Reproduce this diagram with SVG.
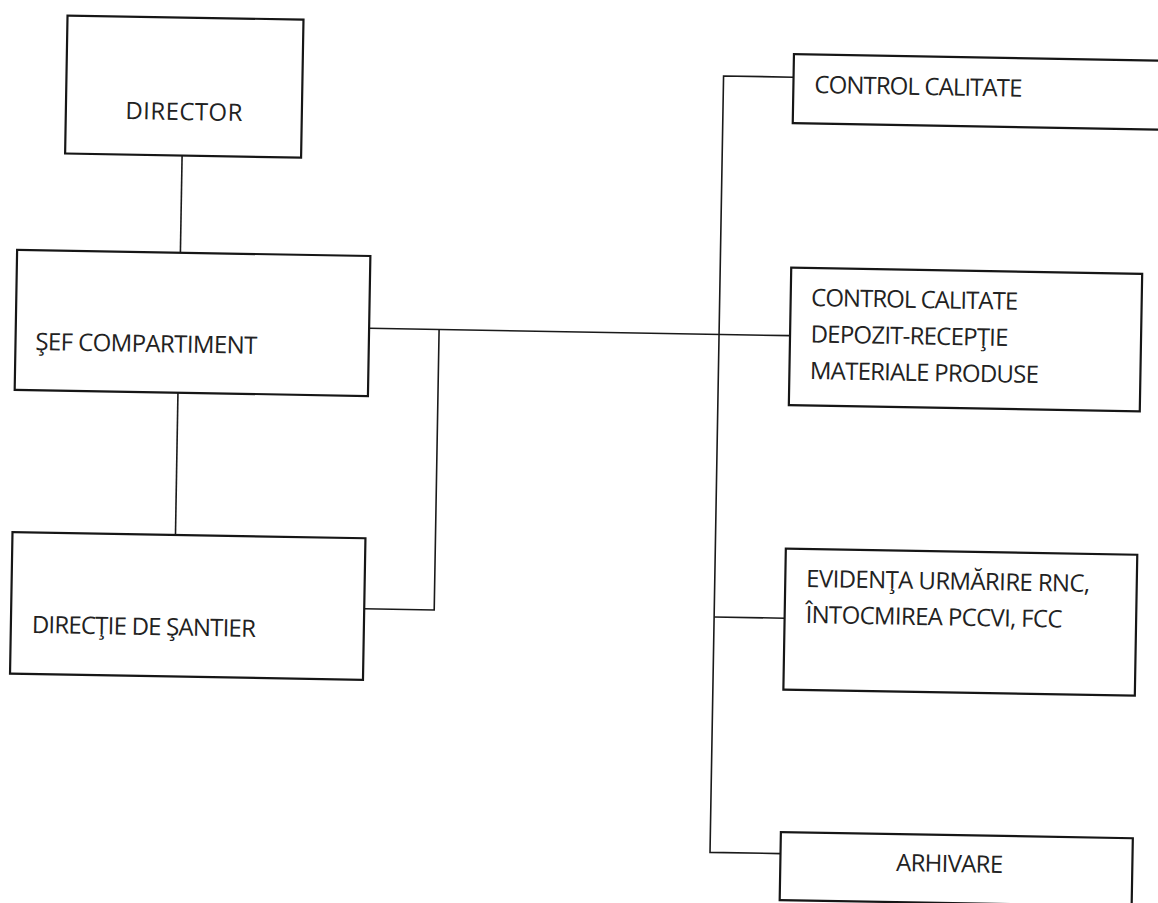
<svg xmlns="http://www.w3.org/2000/svg" width="1158" height="903" viewBox="0 0 1158 903">
<style>
.box{fill:none;stroke:#161616;stroke-width:2.2}
.ln{fill:none;stroke:#1a1a1a;stroke-width:1.6}
.t{font-family:"Open Sans","Noto Sans","Liberation Sans",sans-serif;font-size:24px;fill:#222}
</style>
<rect width="1158" height="903" fill="#ffffff"/>
<g transform="rotate(1 579 451)">
<g id="connectors">
<line class="ln" x1="177" y1="162.5" x2="177" y2="259.7"/>
<line class="ln" x1="177" y1="399.7" x2="177" y2="542"/>
<line class="ln" x1="367" y1="332" x2="788" y2="332"/>
<polyline class="ln" points="437,332 437,612.5 367,612.5"/>
<polyline class="ln" points="787,73.5 717,73.5 717,850 787.5,850"/>
<line class="ln" x1="717" y1="614.6" x2="787.5" y2="614.6"/>
</g>
<g id="director">
<rect class="box" x="60" y="24.5" width="236" height="138"/>
<text class="t" x="178" y="127" text-anchor="middle" font-size="26" textLength="117">DIRECTOR</text>
</g>
<g id="sef-compartiment">
<rect class="box" x="13.7" y="259.7" width="353.3" height="140"/>
<text class="t" x="33.5" y="359.5" textLength="222">ŞEF COMPARTIMENT</text>
</g>
<g id="directie-santier">
<rect class="box" x="14" y="542" width="353" height="141.5"/>
<text class="t" x="35" y="642.5" textLength="224">DIRECŢIE DE ŞANTIER</text>
</g>
<g id="control-calitate">
<rect class="box" x="787" y="50.5" width="420" height="69"/>
<text class="t" x="808" y="89" textLength="208">CONTROL CALITATE</text>
</g>
<g id="control-calitate-depozit">
<rect class="box" x="788" y="264" width="351" height="137.5"/>
<text class="t" x="808.5" y="302" textLength="207">CONTROL CALITATE</text>
<text class="t" x="808.5" y="338.5" textLength="198">DEPOZIT-RECEPŢIE</text>
<text class="t" x="808.5" y="375" textLength="229">MATERIALE PRODUSE</text>
</g>
<g id="evidenta">
<rect class="box" x="787.5" y="545" width="351.5" height="141"/>
<text class="t" x="808.4" y="583" textLength="284">EVIDENŢA URMĂRIRE RNC,</text>
<text class="t" x="808.4" y="619" textLength="257">ÎNTOCMIREA PCCVI, FCC</text>
</g>
<g id="arhivare">
<rect class="box" x="787.5" y="828.5" width="352" height="68"/>
<text class="t" x="903.3" y="865.5" textLength="107">ARHIVARE</text>
</g>
</g>
</svg>
